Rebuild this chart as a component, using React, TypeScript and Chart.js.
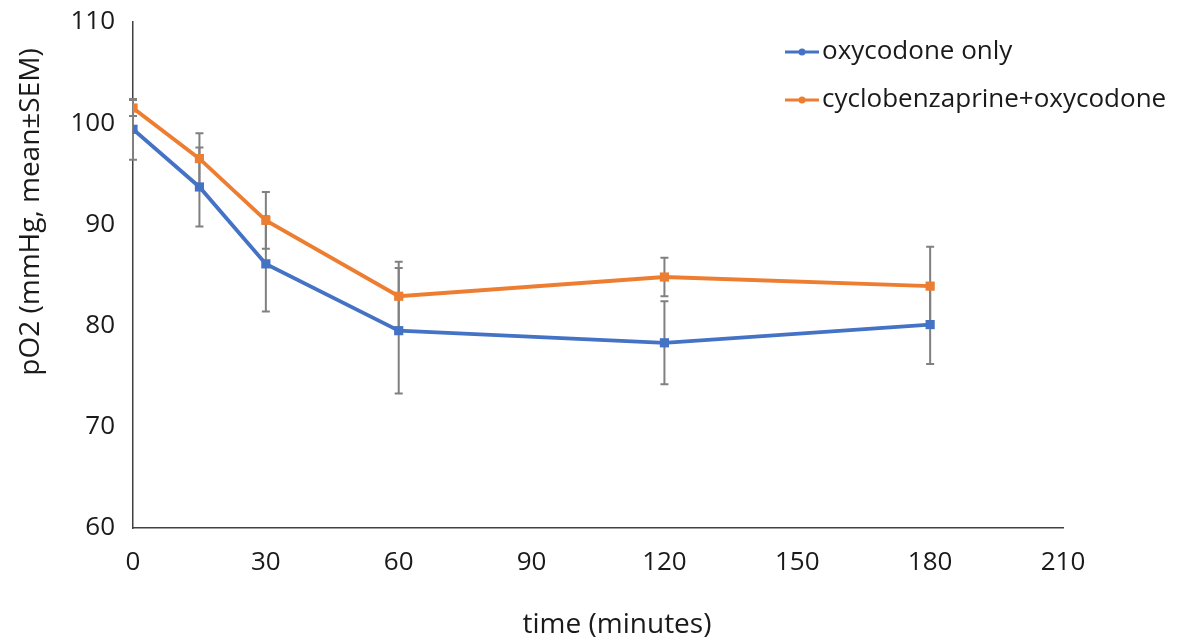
import React, { useEffect, useRef } from "react";
import Chart from "chart.js/auto";

const times = [0, 15, 30, 60, 120, 180];
const oxyMean = [99.4, 93.7, 86.1, 79.5, 78.3, 80.1];
const oxySem = [3.0, 3.9, 4.7, 6.2, 4.1, 3.9];
const comboMean = [101.5, 96.5, 90.4, 82.9, 84.8, 83.9];
const comboSem = [0.8, 2.5, 2.8, 3.4, 1.9, 3.9];
const seriesNames = ["oxycodone only", "cyclobenzaprine+oxycodone"];
const seriesColors = ["#4472C4", "#ED7D31"];
const xTicks = [0, 30, 60, 90, 120, 150, 180, 210];
const yTicks = [60, 70, 80, 90, 100, 110];
const xTitle = "time (minutes)";
const yTitle = "pO2 (mmHg, mean±SEM)";

const FONT = "'Open Sans', 'DejaVu Sans', sans-serif";
const TEXT = "#1a1a1a";

function legendMarker(color: string): HTMLCanvasElement {
  const c = document.createElement("canvas");
  c.width = 34;
  c.height = 10;
  const g = c.getContext("2d")!;
  g.strokeStyle = color;
  g.lineWidth = 3;
  g.beginPath();
  g.moveTo(0, 5);
  g.lineTo(34, 5);
  g.stroke();
  g.fillStyle = color;
  g.beginPath();
  g.arc(17, 5, 3.5, 0, Math.PI * 2);
  g.fill();
  return c;
}

const errorBars = {
  id: "errorBars",
  beforeDatasetsDraw(chart: any) {
    const { ctx, scales } = chart;
    const xs = scales.x;
    const ys = scales.y;
    const groups = [
      { m: oxyMean, s: oxySem },
      { m: comboMean, s: comboSem },
    ];
    ctx.save();
    ctx.strokeStyle = "#808080";
    ctx.lineWidth = 2;
    groups.forEach((gr) => {
      times.forEach((t, i) => {
        const px = xs.getPixelForValue(t);
        const top = ys.getPixelForValue(gr.m[i] + gr.s[i]);
        const bot = ys.getPixelForValue(gr.m[i] - gr.s[i]);
        ctx.beginPath();
        ctx.moveTo(px, top);
        ctx.lineTo(px, bot);
        ctx.moveTo(px - 4, top);
        ctx.lineTo(px + 4, top);
        ctx.moveTo(px - 4, bot);
        ctx.lineTo(px + 4, bot);
        ctx.stroke();
      });
    });
    ctx.restore();
  },
};

const legendPlacer = {
  id: "legendPlacer",
  beforeDraw(chart: any) {
    const lg = chart.legend;
    if (lg) {
      lg.left = 773;
      lg.top = 17;
      lg.right = 1195;
      lg.bottom = 200;
      lg.width = 1195 - 773;
      lg.height = 183;
    }
  },
};

const axisTitles = {
  id: "axisTitles",
  afterDraw(chart: any) {
    const { ctx } = chart;
    ctx.save();
    ctx.fillStyle = TEXT;
    ctx.font = `28px ${FONT}`;
    ctx.textAlign = "center";
    ctx.textBaseline = "middle";
    ctx.fillText(xTitle, 617, 625);
    ctx.translate(31, 212);
    ctx.rotate(-Math.PI / 2);
    ctx.fillText(yTitle, 0, 0);
    ctx.restore();
  },
};

export default function App() {
  const ref = useRef<HTMLCanvasElement>(null);
  useEffect(() => {
    document.body.style.margin = "0";
    const markers = seriesColors.map(legendMarker);
    const chart = new Chart(ref.current!, {
      type: "line",
      data: {
        datasets: [
          {
            label: seriesNames[0],
            data: times.map((t, i) => ({ x: t, y: oxyMean[i] })),
            borderColor: seriesColors[0],
            backgroundColor: seriesColors[0],
            borderWidth: 3.8,
            pointStyle: "rect",
            pointRadius: 6.5,
            pointBorderWidth: 0,
            tension: 0,
          },
          {
            label: seriesNames[1],
            data: times.map((t, i) => ({ x: t, y: comboMean[i] })),
            borderColor: seriesColors[1],
            backgroundColor: seriesColors[1],
            borderWidth: 3.8,
            pointStyle: "rect",
            pointRadius: 6.5,
            pointBorderWidth: 0,
            tension: 0,
          },
        ],
      },
      options: {
        animation: false,
        responsive: false,
        maintainAspectRatio: false,
        layout: { padding: { top: 22, right: 132, left: 0, bottom: 0 } },
        font: { family: FONT },
        plugins: {
          tooltip: { enabled: false },
          legend: {
            display: true,
            position: "chartArea",
            align: "start",
            labels: {
              usePointStyle: true,
              boxWidth: 14,
              boxHeight: 26,
              padding: 22,
              color: TEXT,
              font: { family: FONT, size: 26 },
              generateLabels: (ch: any) =>
                Chart.defaults.plugins.legend.labels
                  .generateLabels(ch)
                  .map((it: any, i: number) => ({ ...it, pointStyle: markers[i] })),
            },
          },
        },
        scales: {
          x: {
            type: "linear",
            min: 0,
            max: 210,
            afterBuildTicks: (s: any) => {
              s.ticks = xTicks.map((v) => ({ value: v }));
            },
            afterFit: (s: any) => {
              s.height = 115;
              s.paddingLeft = 0;
              s.paddingRight = 0;
            },
            grid: { display: false, drawTicks: false },
            border: { display: true, color: "#404040", width: 1.5 },
            ticks: {
              padding: 19,
              color: TEXT,
              font: { family: FONT, size: 26 },
              maxRotation: 0,
            },
            title: { display: false, text: xTitle },
          },
          y: {
            type: "linear",
            min: 60,
            max: 110,
            afterBuildTicks: (s: any) => {
              s.ticks = yTicks.map((v) => ({ value: v }));
            },
            afterFit: (s: any) => {
              s.width = 133;
              s.paddingTop = 0;
              s.paddingBottom = 0;
            },
            grid: { display: false, drawTicks: false },
            border: { display: true, color: "#404040", width: 1.5 },
            ticks: {
              padding: 18,
              color: TEXT,
              font: { family: FONT, size: 26 },
            },
            title: { display: false, text: yTitle },
          },
        },
      },
      plugins: [errorBars, legendPlacer, axisTitles],
    } as any);
    return () => chart.destroy();
  }, []);
  return (
    <div style={{ position: "fixed", left: 0, top: 0, width: 1195, height: 643, background: "#fff" }}>
      <canvas ref={ref} width={1195} height={643} style={{ width: 1195, height: 643 }} />
    </div>
  );
}
